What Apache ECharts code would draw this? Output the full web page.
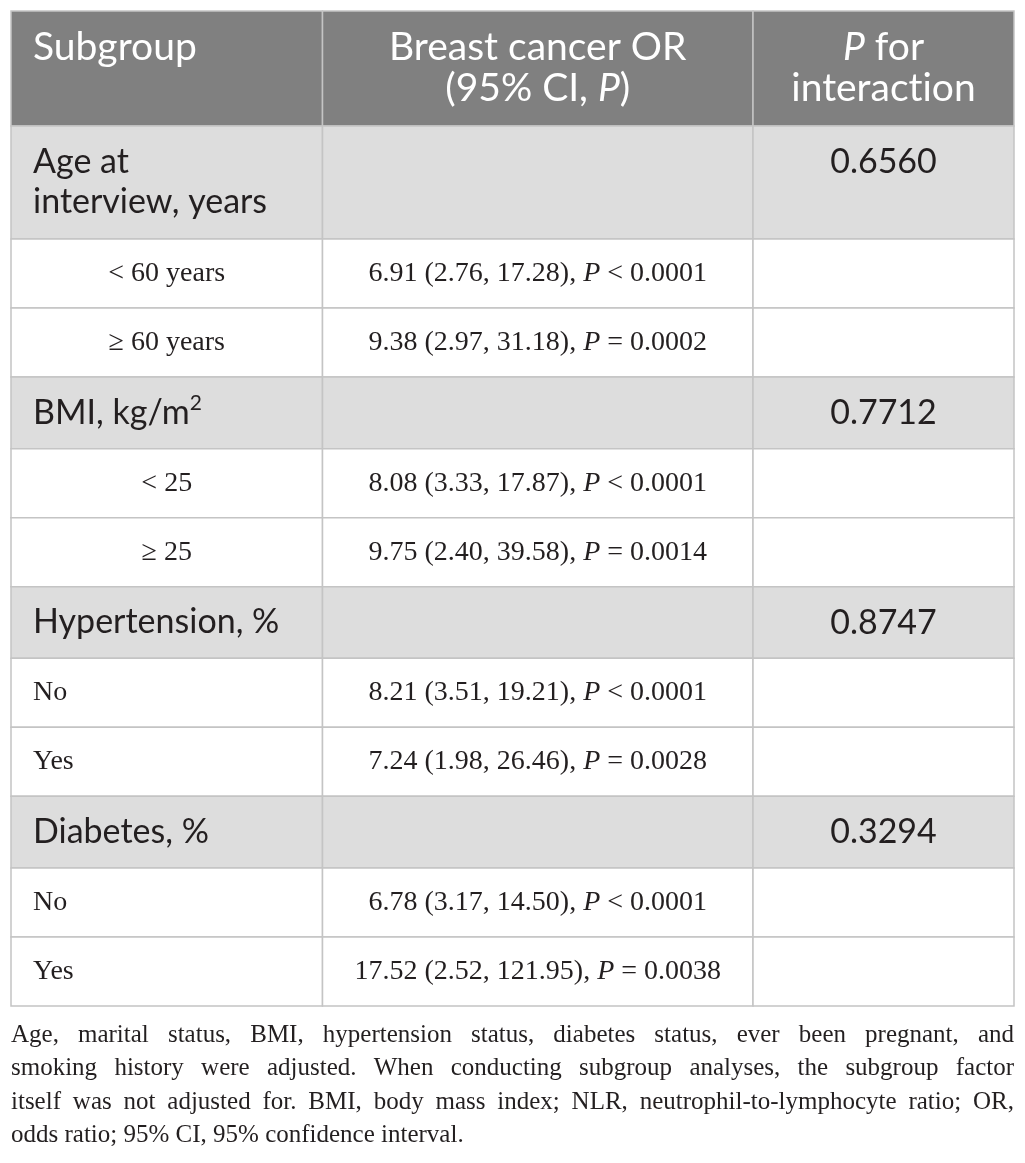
<!DOCTYPE html>
<html>
<head>
<meta charset="utf-8">
<script src="https://cdn.jsdelivr.net/npm/echarts@6/dist/echarts.min.js"></script>
<style>
  html, body { margin: 0; padding: 0; background: #fff; }
  #chart { width: 1025px; height: 1163px; }
</style>
</head>
<body>
<div id="chart"></div>
<script>
// table content
const headers = ['Subgroup', 'Breast cancer OR\n(95% CI, {i|P})', '{i|P} for\ninteraction']
const subgroups = ['Age at\ninterview, years', '< 60 years', '≥ 60 years', 'BMI, kg/m{sup|2}', '< 25', '≥ 25',
  'Hypertension, %', 'No', 'Yes', 'Diabetes, %', 'No', 'Yes']
const orEstimates = ['', '6.91 (2.76, 17.28)', '9.38 (2.97, 31.18)', '', '8.08 (3.33, 17.87)', '9.75 (2.40, 39.58)',
  '', '8.21 (3.51, 19.21)', '7.24 (1.98, 26.46)', '', '6.78 (3.17, 14.50)', '17.52 (2.52, 121.95)']
const orPValues = ['', '< 0.0001', '= 0.0002', '', '< 0.0001', '= 0.0014',
  '', '< 0.0001', '= 0.0028', '', '< 0.0001', '= 0.0038']
const pInteraction = ['0.6560', '', '', '0.7712', '', '', '0.8747', '', '', '0.3294', '', '']
const footnoteLines = [
  'Age, marital status, BMI, hypertension status, diabetes status, ever been pregnant, and',
  'smoking history were adjusted. When conducting subgroup analyses, the subgroup factor',
  'itself was not adjusted for. BMI, body mass index; NLR, neutrophil-to-lymphocyte ratio; OR,',
  'odds ratio; 95% CI, 95% confidence interval.'
]

// layout (px)
const colEdges = [0, 311.5, 742, 1003]
const rowHeight = { head: 115, group2: 113, group: 71.67, sub: 69 }
const centeredSubs = [1, 2, 4, 5]   // sub rows whose label is centred
const SANS = 'Lato'
const SERIF = 'Liberation Serif'
const INK = '#231f20'

// Lato joins "ti" into a ligature, the reference does not
const noLig = s => s.replace(/ti/g, 't\u200Ci')

// row kinds and tops, header first
const kinds = ['head'].concat(subgroups.map((s, j) => {
  if (pInteraction[j] === '') return 'sub'
  return s.indexOf('\n') >= 0 ? 'group2' : 'group'
}))
const rowTops = []
kinds.reduce((acc, k) => { rowTops.push(acc); return acc + rowHeight[k] }, 0)

function sansRich (size, color) {
  return {
    i: { fontFamily: SANS, fontSize: size, fontStyle: 'italic', fill: color, lineHeight: 41 },
    sup: { fontFamily: SANS, fontSize: 21, fill: color, verticalAlign: 'top', lineHeight: 41 }
  }
}

function cellText (x, y, text, opt) {
  return {
    type: 'text',
    x: x,
    y: y,
    style: Object.assign({
      text: text,
      fill: INK,
      align: 'center',
      verticalAlign: 'top'
    }, opt)
  }
}

function renderItem (params, api) {
  const i = api.value(0)
  const kind = kinds[i]
  const y0 = rowTops[i]
  const y1 = y0 + rowHeight[kind]
  const bg = kind === 'head' ? '#808080' : (kind === 'sub' ? '#ffffff' : '#dddddd')
  const children = []
  const left = [], right = []
  for (let c = 0; c < 3; c++) {
    const p0 = api.coord([colEdges[c], y0])
    const p1 = api.coord([colEdges[c + 1], y1])
    left.push(p0[0]); right.push(p1[0])
    children.push({
      type: 'rect',
      shape: { x: p0[0], y: p0[1], width: p1[0] - p0[0], height: p1[1] - p0[1] },
      style: { fill: bg, stroke: '#c4c4c4', lineWidth: 1.5 }
    })
  }
  const top = api.coord([0, y0])[1]
  const mid = (top + api.coord([0, y1])[1]) / 2
  const cx = c => (left[c] + right[c]) / 2

  if (kind === 'head') {
    const st = { fill: '#ffffff', fontFamily: SANS, fontSize: 39, lineHeight: 41, rich: sansRich(39, '#ffffff') }
    children.push(cellText(left[0] + 22, top + 16, noLig(headers[0]), Object.assign({}, st, { align: 'left' })))
    children.push(cellText(cx(1), top + 16, noLig(headers[1]), st))
    children.push(cellText(cx(2), top + 16, noLig(headers[2]), st))
  } else if (kind === 'group' || kind === 'group2') {
    const j = i - 1
    const st = { fontFamily: SANS, fontSize: 34, lineHeight: 40, rich: sansRich(34, INK) }
    const labelTop = kind === 'group2' ? mid - 40 : mid - 20
    children.push(cellText(left[0] + 22, labelTop, noLig(subgroups[j]), Object.assign({}, st, { align: 'left' })))
    children.push(cellText(cx(2), top + 16, pInteraction[j], st))
  } else {
    const j = i - 1
    const st = {
      fontFamily: SERIF, fontSize: 28, lineHeight: 34, verticalAlign: 'middle',
      rich: { i: { fontFamily: SERIF, fontSize: 28, fontStyle: 'italic', fill: INK, lineHeight: 34 } }
    }
    const centred = centeredSubs.indexOf(j) >= 0
    children.push(cellText(centred ? cx(0) : left[0] + 22, mid, subgroups[j],
      Object.assign({}, st, { align: centred ? 'center' : 'left' })))
    children.push(cellText(cx(1), mid, orEstimates[j] + ', {i|P} ' + orPValues[j], st))
  }
  return { type: 'group', children: children }
}

// justified footnote, word positions from measured widths
const FOOT_FONT = '25px "Liberation Serif"'
const ctx = document.createElement('canvas').getContext('2d')
ctx.font = FOOT_FONT
const footLeft = 11, footWidth = 1003, footTop = 1035, footStep = 33.5
const footGraphics = []
footnoteLines.forEach((line, li) => {
  const words = line.split(' ')
  const widths = words.map(w => ctx.measureText(w).width)
  const sum = widths.reduce((a, b) => a + b, 0)
  const last = li === footnoteLines.length - 1
  const gap = last ? ctx.measureText(' ').width : (footWidth - sum) / (words.length - 1)
  let x = footLeft
  words.forEach((w, k) => {
    footGraphics.push({
      type: 'text',
      x: x,
      y: footTop + li * footStep,
      silent: true,
      style: { text: w, font: FOOT_FONT, fill: INK, verticalAlign: 'middle', align: 'left' }
    })
    x += widths[k] + gap
  })
})

const chart = echarts.init(document.getElementById('chart'), null, { renderer: 'canvas' })
chart.setOption({
  backgroundColor: '#ffffff',
  animation: false,
  grid: { left: 11, top: 11, width: 1003, height: 995 },
  xAxis: { type: 'value', min: 0, max: 1003, show: false },
  yAxis: { type: 'value', min: 0, max: 995, inverse: true, show: false },
  graphic: footGraphics,
  series: [{
    type: 'custom',
    renderItem: renderItem,
    clip: false,
    silent: true,
    encode: { x: 0, y: 0 },
    data: kinds.map((k, i) => [i])
  }]
})
</script>
</body>
</html>
